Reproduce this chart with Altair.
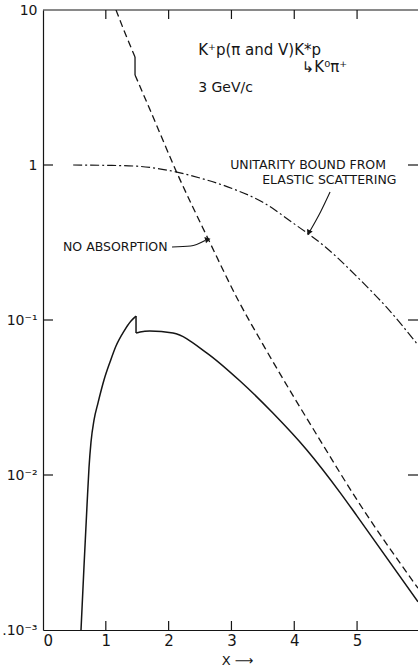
import math

import altair as alt
import pandas as pd

INK = "#151515"
FONT = "DejaVu Sans"

# K*p production cross section vs x (log scale)
# solid, with absorption: rising branch, drop at the threshold, falling branch
rise_x = [0.605, 0.653, 0.701, 0.732, 0.764, 0.812, 0.876, 0.971, 1.067, 1.162, 1.29, 1.401, 1.481]
rise_y = [0.001, 0.00259, 0.0064, 0.0111, 0.0163, 0.0226, 0.0292, 0.0410, 0.0536, 0.0680, 0.0849,
          0.0986, 0.106]
fall_x = [1.481, 1.545, 1.70, 2.07, 2.61, 3.137, 3.66, 4.2, 4.73, 5.0, 5.97]
fall_y = [0.0824, 0.0838, 0.0850, 0.0824, 0.0612, 0.0404, 0.0251, 0.0145, 0.0077, 0.00543, 0.00152]

# dashed, no absorption: upper and lower branch around the step
dash_up_x = [1.162, 1.306, 1.465]
dash_up_y = [10.0, 7.1, 4.98]
dash_lo_x = [1.465, 1.704, 2.134, 2.63, 3.105, 3.535, 4.41, 5.0, 5.97]
dash_lo_y = [3.81, 2.27, 0.887, 0.333, 0.1346, 0.0659, 0.0168, 0.0069, 0.00186]

# dash-dot: unitarity bound from elastic scattering
bound_x = [0.48, 1.0, 1.5, 2.0, 2.5, 3.0, 3.5, 4.0, 4.5, 5.0, 5.5, 5.97]
bound_y = [1.0, 0.995, 0.982, 0.923, 0.824, 0.708, 0.575, 0.417, 0.295, 0.19, 0.117, 0.069]

x_ticks = [0, 1, 2, 3, 4, 5]
inner_x_ticks = [1, 2, 3, 4, 5]
y_ticks = [0.001, 0.01, 0.1, 1, 10]
y_tick_labels = [".10⁻³", "10⁻²", "10⁻¹", "1", "10"]
inner_y_ticks = [0.01, 0.1, 1]

W, H = 375, 620
X_MAX = 5.97

xs = alt.Scale(domain=[0, X_MAX], nice=False, zero=False)
ys = alt.Scale(type="log", domain=[0.001, 10], nice=False)

label_expr = ""
for v, lab in zip(y_ticks, y_tick_labels):
    label_expr += f"abs(log(datum.value)/LN10 - ({math.log10(v)})) < 0.01 ? '{lab}' : "
label_expr += "''"

X_AXIS = alt.Axis(values=x_ticks, format="d", ticks=False, tickSize=0, grid=False,
                  domain=True, domainColor=INK, domainWidth=1.2,
                  labelFont=FONT, labelFontSize=15, labelColor=INK, labelPadding=3,
                  title="X ⟶", titleFont=FONT, titleFontSize=13, titleFontWeight="normal",
                  titleColor=INK, titleX=194, titleY=30, titleBaseline="middle",
                  titleAlign="center")
Y_AXIS = alt.Axis(values=y_ticks, labelExpr=label_expr, ticks=False, tickSize=0, grid=False,
                  domain=True, domainColor=INK, domainWidth=1.2,
                  labelFont=FONT, labelFontSize=14, labelColor=INK, labelPadding=6,
                  labelBaseline="middle", title=None)


def X(field):
    return alt.X(field, type="quantitative", scale=xs, axis=X_AXIS)


def Y(field):
    return alt.Y(field, type="quantitative", scale=ys, axis=Y_AXIS)


def curve(branches, width, dash=None):
    rows = []
    for b, (xv, yv) in enumerate(branches):
        for i, (xx, yy) in enumerate(zip(xv, yv)):
            rows.append({"x": xx, "y": yy, "b": b, "i": i})
    kw = dict(color=INK, strokeWidth=width, clip=True, interpolate="monotone")
    if dash:
        kw["strokeDash"] = dash
    return alt.Chart(pd.DataFrame(rows)).mark_line(**kw).encode(
        x=X("x"), y=Y("y"), detail="b:N", order="i:Q")


def step(xv, y_top, y_bottom, width, dash=None):
    kw = dict(color=INK, strokeWidth=width)
    if dash:
        kw["strokeDash"] = dash
    df = pd.DataFrame({"x": [xv], "y0": [y_top], "y1": [y_bottom]})
    return alt.Chart(df).mark_rule(**kw).encode(x=X("x"), y=Y("y0"), y2="y1")


solid = curve([(rise_x, rise_y), (fall_x, fall_y)], 1.5)
solid_drop = step(rise_x[-1], rise_y[-1], fall_y[0], 1.5)
dashed = curve([(dash_up_x, dash_up_y), (dash_lo_x, dash_lo_y)], 1.3, [7, 4])
dashed_drop = step(dash_up_x[-1], dash_up_y[-1], dash_lo_y[0], 1.3)
bound = curve([(bound_x, bound_y)], 1.2, [9, 3, 2, 3])

# frame line along the top
top_frame = alt.Chart(pd.DataFrame({"x0": [0.0], "x1": [X_MAX]})).mark_rule(
    color=INK, strokeWidth=1.2).encode(x=X("x0"), x2="x1", y=alt.value(0))

# inward tick marks on all four sides
xt = pd.DataFrame({"x": inner_x_ticks})
yt = pd.DataFrame({"y": inner_y_ticks})
tick_style = dict(color=INK, strokeWidth=1.2)
top_ticks = alt.Chart(xt).mark_rule(**tick_style).encode(x=X("x"), y=alt.value(0), y2=alt.value(9))
bottom_ticks = alt.Chart(xt).mark_rule(**tick_style).encode(x=X("x"), y=alt.value(H - 9), y2=alt.value(H))
left_ticks = alt.Chart(yt).mark_rule(**tick_style).encode(y=Y("y"), x=alt.value(0), x2=alt.value(10))
right_ticks = alt.Chart(yt).mark_rule(**tick_style).encode(y=Y("y"), x=alt.value(W - 10), x2=alt.value(W))

# labels
text_x = [2.47, 4.12, 2.47, 2.98, 3.49, 0.318]
text_y = [5.52, 4.28, 3.14, 1.0, 0.80, 0.296]
text_s = ["K⁺p(π and V)K*p", "↳K⁰π⁺", "3 GeV/c", "UNITARITY BOUND FROM", "ELASTIC SCATTERING",
          "NO ABSORPTION"]
text_size = [15, 15, 14, 12.5, 12.5, 12.5]
labels = alt.Chart(pd.DataFrame({"x": text_x, "y": text_y, "t": text_s, "s": text_size})).mark_text(
    align="left", baseline="middle", font=FONT, color=INK).encode(
    x=X("x"), y=Y("y"), text="t:N", size=alt.Size("s:Q", scale=None, legend=None))

# pointer arrows
arrow1_x = [2.054, 2.35, 2.58]
arrow1_y = [0.296, 0.300, 0.326]
arrow2_x = [4.57, 4.42, 4.25]
arrow2_y = [0.67, 0.50, 0.375]
pointers = alt.layer(
    alt.Chart(pd.DataFrame({"x": arrow1_x, "y": arrow1_y, "i": [0, 1, 2]})).mark_line(
        color=INK, strokeWidth=1.1, interpolate="monotone").encode(x=X("x"), y=Y("y"), order="i:Q"),
    alt.Chart(pd.DataFrame({"x": arrow2_x, "y": arrow2_y, "i": [0, 1, 2]})).mark_line(
        color=INK, strokeWidth=1.1, interpolate="monotone").encode(x=X("x"), y=Y("y"), order="i:Q"),
)
heads = alt.Chart(pd.DataFrame({"x": [2.61, 4.236], "y": [0.330, 0.37], "a": [75, 205]})).mark_point(
    shape="triangle", filled=True, color=INK, opacity=1, size=40).encode(
    x=X("x"), y=Y("y"), angle=alt.Angle("a:Q", scale=None))

chart = alt.layer(
    top_frame, top_ticks, bottom_ticks, left_ticks, right_ticks,
    bound, dashed, dashed_drop, solid, solid_drop, labels, pointers, heads,
).properties(
    width=W, height=H,
    autosize=alt.AutoSizeParams(type="none"),
    padding={"left": 43, "top": 10, "right": 0, "bottom": 38},
    background="white",
).configure_view(stroke=None)

chart.save("out.html", embed_options={"renderer": "svg", "actions": False})
